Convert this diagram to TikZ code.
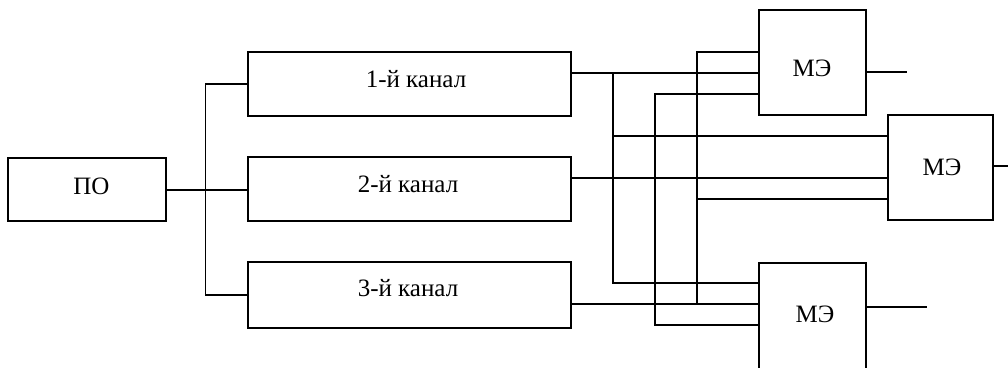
\documentclass[tikz,border=0pt]{standalone}
\usepackage{fontspec}
\setmainfont{Liberation Serif}
\begin{document}
\begin{tikzpicture}[x=1pt,y=-1pt,
  box/.style={draw,line width=1.5pt,rectangle,inner sep=0pt},
  lbl/.style={inner sep=0pt,font=\fontsize{25}{30}\selectfont},
  wire/.style={line width=1.5pt}]
\useasboundingbox (0,0) rectangle (1008,367);
% boxes
\node[box,minimum width=158pt,minimum height=63pt] (po) at (87,189.5) {};
\node[box,minimum width=323pt,minimum height=64pt] (ch1) at (409.5,84) {};
\node[box,minimum width=323pt,minimum height=64pt] (ch2) at (409.5,189) {};
\node[box,minimum width=323pt,minimum height=66pt] (ch3) at (409.5,295) {};
\node[box,minimum width=107pt,minimum height=105pt] (me1) at (812.5,62.5) {};
\node[box,minimum width=105pt,minimum height=105pt] (me2) at (940.5,167.5) {};
\node[box,minimum width=107pt,minimum height=112pt] (me3) at (812.5,319) {};
% labels
\node[lbl] (tpo) at (91.5,186) {ПО};
\node[lbl] (t1) at (416,79) {1-й канал};
\node[lbl] (t2) at (408,184) {2-й канал};
\node[lbl] (t3) at (408,288) {3-й канал};
\node[lbl] (tm1) at (812,68) {МЭ};
\node[lbl] (tm2) at (942,167) {МЭ};
\node[lbl] (tm3) at (815,314) {МЭ};
% free ends
\coordinate (o1) at (907,72);
\coordinate (o2) at (1010,166);
\coordinate (o3) at (927,307);
% input distribution
\draw[wire] (po.east |- 0,190) -- (ch2.west |- 0,190);
\draw[wire] (ch1.west) -- ++(-42,0) |- (ch3.west);
% channel outputs
\draw[wire] (ch1.east |- 0,73) -- (me1.west |- 0,73);
\draw[wire] (ch2.east |- 0,178) -- (me2.west |- 0,178);
\draw[wire] (ch3.east |- 0,304) -- (me3.west |- 0,304);
% cross connections
\draw[wire] (me2.west |- 0,136) -- (613,136) -- (613,73);
\draw[wire] (613,73) -- (613,283) -- (me3.west |- 0,283);
\draw[wire] (me1.west |- 0,94) -- (655,94) -- (655,325) -- (me3.west |- 0,325);
\draw[wire] (me1.west |- 0,52) -- (697,52) -- (697,304);
\draw[wire] (697,199) -- (me2.west |- 0,199);
% outputs
\draw[wire] (me1.east |- o1) -- (o1);
\draw[wire] (me2.east |- o2) -- (o2);
\draw[wire] (me3.east |- o3) -- (o3);
\end{tikzpicture}
\end{document}
